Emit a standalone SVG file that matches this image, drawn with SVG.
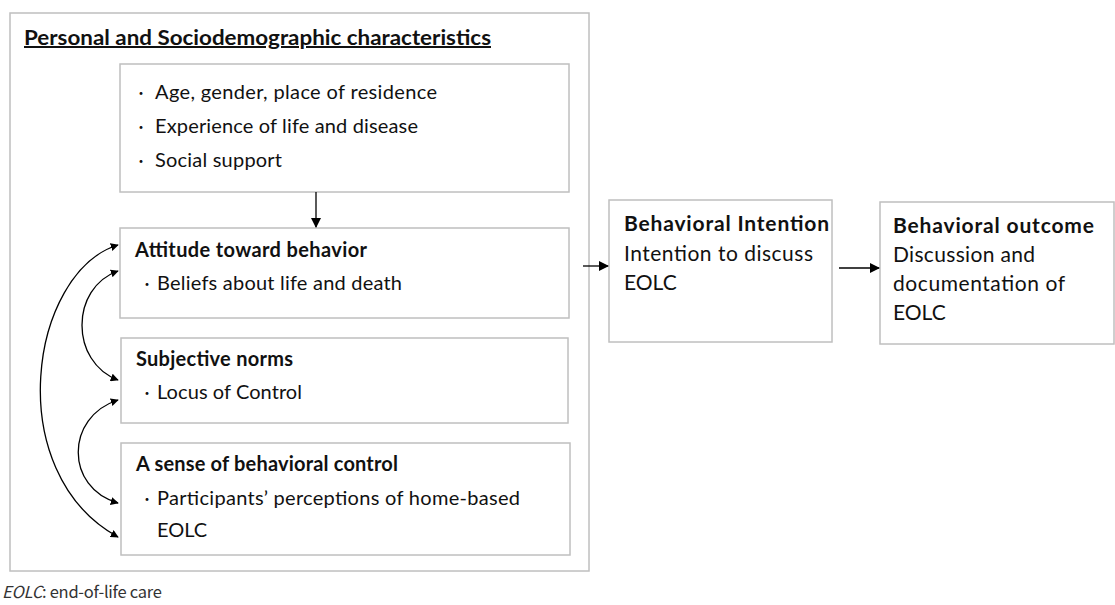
<svg xmlns="http://www.w3.org/2000/svg" width="1115" height="605" viewBox="0 0 1115 605">
<style>
.box{fill:#fff;stroke:#bfbfbf;stroke-width:1.5}
.t{font-family:Lato,"Noto Sans CJK JP",sans-serif;font-size:20px;fill:#111}
.r{font-size:21px}
.b{font-weight:bold}
.bul{font-family:"Noto Sans CJK JP",sans-serif;font-size:14px;fill:#111}
.c{fill:none;stroke:#000;stroke-width:1.3}
</style>
<defs>
<marker id="ah" viewBox="0 0 10 10" refX="9" refY="5" markerWidth="8" markerHeight="8" orient="auto-start-reverse" markerUnits="userSpaceOnUse">
<path d="M0,0 L10,5 L0,10 z" fill="#000"/>
</marker>
<marker id="ah2" viewBox="0 0 10 10" refX="9" refY="5" markerWidth="10" markerHeight="10" orient="auto-start-reverse" markerUnits="userSpaceOnUse">
<path d="M0,0 L10,5 L0,10 z" fill="#000"/>
</marker>
</defs>
<rect width="1115" height="605" fill="#fff"/>
<g id="outer">
<rect class="box" x="10" y="13" width="579" height="558"/>
<text class="t b" x="24" y="45" font-size="23.5" text-decoration="underline" textLength="467" lengthAdjust="spacingAndGlyphs">Personal and Sociodemographic characteristics</text>
</g>
<g id="demographics">
<rect class="box" x="120" y="64" width="449" height="128"/>
<text class="bul" x="134" y="98">・</text><text class="t" x="155" y="99" textLength="282">Age, gender, place of residence</text>
<text class="bul" x="134" y="132">・</text><text class="t" x="155" y="133" textLength="263">Experience of life and disease</text>
<text class="bul" x="134" y="166">・</text><text class="t" x="155" y="167" textLength="127">Social support</text>
</g>
<g id="attitude">
<rect class="box" x="120" y="228" width="449" height="90"/>
<text class="t b" x="135" y="257" textLength="232">Attitude toward behavior</text>
<text class="bul" x="140" y="289">・</text><text class="t" x="157" y="290" textLength="245">Beliefs about life and death</text>
</g>
<g id="norms">
<rect class="box" x="121" y="338" width="447" height="85"/>
<text class="t b" x="136" y="366" textLength="157">Subjective norms</text>
<text class="bul" x="140" y="398">・</text><text class="t" x="157" y="399" textLength="145">Locus of Control</text>
</g>
<g id="control">
<rect class="box" x="121" y="443" width="449" height="112"/>
<text class="t b" x="136" y="471" textLength="262">A sense of behavioral control</text>
<text class="bul" x="140" y="504">・</text><text class="t" x="157" y="505" textLength="363">Participants’ perceptions of home-based</text>
<text class="t" x="157" y="537">EOLC</text>
</g>
<g id="intention">
<rect class="box" x="609" y="200" width="223" height="142"/>
<text class="t r b" x="624" y="231" textLength="205">Behavioral Intention</text>
<text class="t r" x="624" y="261" textLength="189">Intention to discuss</text>
<text class="t r" x="624" y="290">EOLC</text>
</g>
<g id="outcome">
<rect class="box" x="880" y="202" width="234" height="142"/>
<text class="t r b" x="893" y="233" textLength="201">Behavioral outcome</text>
<text class="t r" x="893" y="262" textLength="142">Discussion and</text>
<text class="t r" x="893" y="291" textLength="172">documentation of</text>
<text class="t r" x="893" y="320">EOLC</text>
</g>
<g id="connectors">
<line class="c" x1="316" y1="192" x2="316" y2="227" marker-end="url(#ah2)"/>
<line class="c" x1="583" y1="266" x2="608" y2="266" marker-end="url(#ah2)"/>
<line class="c" x1="839" y1="268" x2="879" y2="268" marker-end="url(#ah2)"/>
<path class="c" d="M118,245 C30,272 0,472 118,537" marker-start="url(#ah)" marker-end="url(#ah)"/>
<path class="c" d="M118,271 C70,288 70,362 118,380" marker-start="url(#ah)" marker-end="url(#ah)"/>
<path class="c" d="M118,400 C65,417 65,488 118,503" marker-start="url(#ah)" marker-end="url(#ah)"/>
</g>
<g id="footnote">
<text x="2" y="598" font-family="'Noto Sans CJK JP',sans-serif" font-size="16.5" fill="#333" textLength="160"><tspan font-style="italic">EOLC</tspan>: end-of-life care</text>
</g>
</svg>
